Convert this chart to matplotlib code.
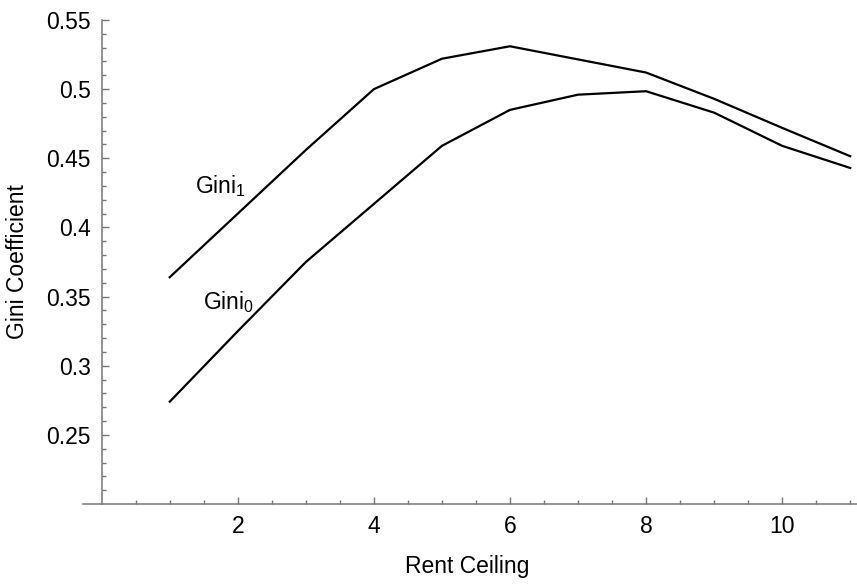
import matplotlib
matplotlib.use('Agg')
import matplotlib.pyplot as plt
import numpy as np

plt.rcParams['font.family'] = ['Liberation Sans', 'DejaVu Sans']
plt.rcParams['mathtext.fontset'] = 'custom'
plt.rcParams['mathtext.rm'] = 'Liberation Sans'
plt.rcParams['mathtext.it'] = 'Liberation Sans'

# data
rent_ceiling = [1, 2, 3, 4, 5, 6, 7, 8, 9, 10, 11]
gini_1 = [0.364, 0.410, 0.456, 0.500, 0.522, 0.531, 0.5215, 0.512, 0.493, 0.472, 0.4515]
gini_0 = [0.274, 0.325, 0.375, 0.417, 0.459, 0.485, 0.496, 0.4985, 0.483, 0.459, 0.443]

fig = plt.figure(figsize=(8.57, 5.84), dpi=100)
ax = fig.add_axes([83 / 857, 1 - 504 / 584, 774 / 857, 484 / 584])

ax.plot(rent_ceiling, gini_1, color='black', lw=1.6)
ax.plot(rent_ceiling, gini_0, color='black', lw=1.6)

ax.set_xlim(-0.275, 11.1)
ax.set_ylim(0.2, 0.55)

# Mathematica-style axes
axis_col = '#777777'
for s in ['top', 'right']:
    ax.spines[s].set_visible(False)
ax.spines['left'].set_position(('data', 0))
ax.spines['left'].set_bounds(0.2, 0.55)
ax.spines['left'].set_color(axis_col)
ax.spines['bottom'].set_color(axis_col)
ax.spines['left'].set_linewidth(1.1)
ax.spines['bottom'].set_linewidth(1.1)

ax.set_xticks([2, 4, 6, 8, 10])
ax.set_xticks([v for v in np.arange(0.5, 11.01, 0.5) if v not in (2, 4, 6, 8, 10)], minor=True)
ax.set_yticks([0.25, 0.3, 0.35, 0.4, 0.45, 0.5, 0.55])
ax.set_yticklabels(['0.25', '0.3', '0.35', '0.4', '0.45', '0.5', '0.55'])
ax.set_yticks([v for v in np.arange(0.21, 0.55, 0.01) if round(v * 100) % 5 != 0], minor=True)

ax.tick_params(which='both', direction='in', color=axis_col, width=1.0, labelsize=16.5)
ax.tick_params(which='major', length=5, pad=8)
ax.tick_params(which='minor', length=3)

ax.set_xlabel('Rent Ceiling', fontsize=16.5)
ax.set_ylabel('Gini Coefficient', fontsize=16.5)
ax.xaxis.set_label_coords(467 / 857, 1 - 566 / 584, transform=fig.transFigure)
ax.xaxis.label.set_va('center')
ax.yaxis.set_label_coords(18 / 857, 1 - 262 / 584, transform=fig.transFigure)
ax.yaxis.label.set_va('center')

ax.text(1.37, 0.425, r'Gini$_1$', fontsize=16.5, va='baseline', ha='left')
ax.text(1.49, 0.341, r'Gini$_0$', fontsize=16.5, va='baseline', ha='left')

fig.savefig('out.png', dpi=100)
